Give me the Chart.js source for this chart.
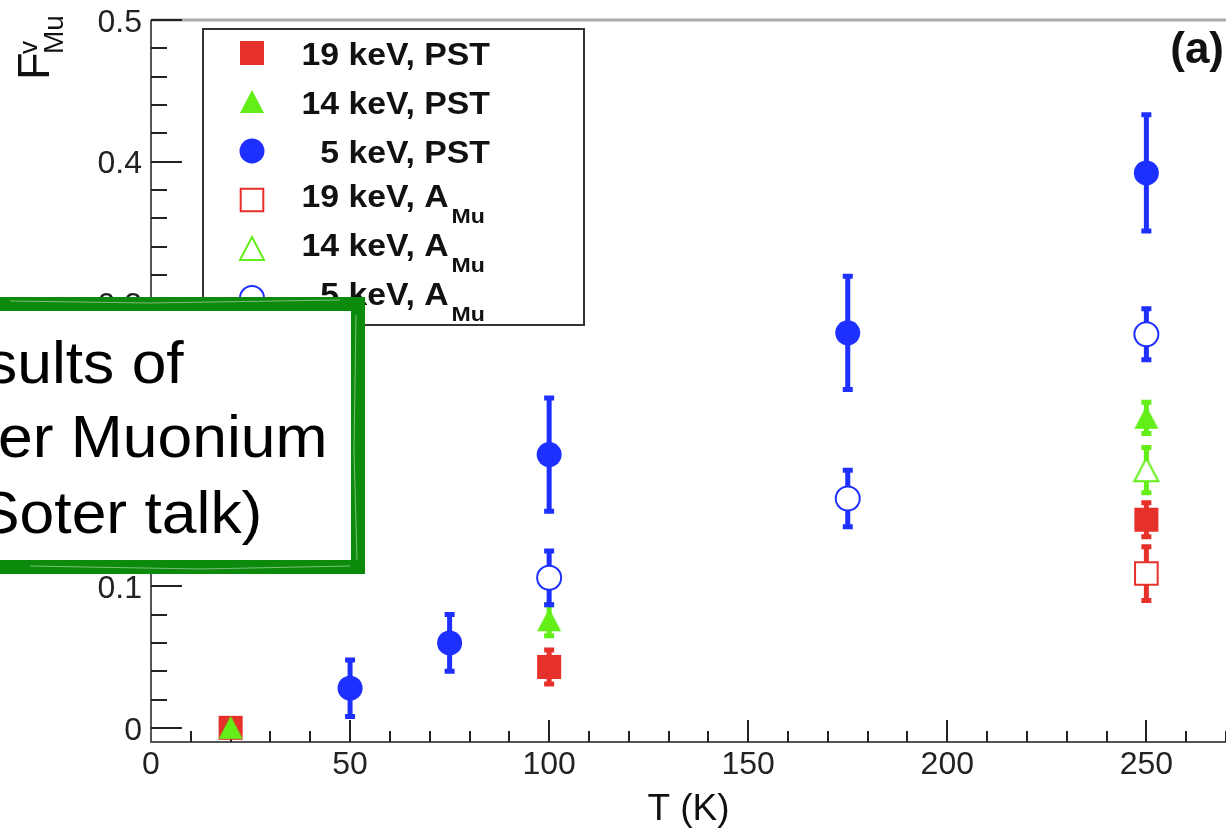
<!DOCTYPE html>
<html>
<head>
<meta charset="utf-8">
<title>Vacuum muonium fraction vs temperature</title>
<script src="https://cdn.jsdelivr.net/npm/chart.js@4.4.1/dist/chart.umd.min.js"></script>
<style>
  html, body { margin: 0; padding: 0; background: #fff; }
  #wrap { width: 1226px; height: 834px; }
</style>
</head>
<body>
<div id="wrap"><canvas id="chart" width="1226" height="834"></canvas></div>
<script>
// Datos: temperatura (K), fraccion F y error de cada serie
const pst19T = [20, 100, 250];
const pst19F = [0, 0.043, 0.147];
const pst19Err = [0, 0.012, 0.012];

const pst14T = [20, 100, 250];
const pst14F = [0, 0.076, 0.219];
const pst14Err = [0, 0.011, 0.011];

const pst5T = [50, 75, 100, 175, 250];
const pst5F = [0.028, 0.060, 0.193, 0.279, 0.392];
const pst5Err = [0.020, 0.020, 0.040, 0.040, 0.041];

const amu19T = [250];
const amu19F = [0.109];
const amu19Err = [0.019];

const amu14T = [250];
const amu14F = [0.182];
const amu14Err = [0.016];

const amu5T = [100, 175, 250];
const amu5F = [0.106, 0.162, 0.278];
const amu5Err = [0.019, 0.020, 0.018];

const xTickValues = [0, 50, 100, 150, 200, 250];
const xTickLabels = ['0', '50', '100', '150', '200', '250'];
const yTickValues = [0, 0.1, 0.2, 0.3, 0.4, 0.5];
const yTickLabels = ['0', '0.1', '0.2', '0.3', '0.4', '0.5'];

const legendEnergies = ['19', '14', '5', '19', '14', '5'];
const legendMethods = ['PST', 'PST', 'PST', 'A', 'A', 'A'];
const legendSubs = ['', '', '', 'Mu', 'Mu', 'Mu'];

const noteLines = ['sults of', 'er Muonium', 'Soter talk)'];

const RED = '#e6302a';
const GREEN = '#62ee16';
const BLUE = '#1e30ff';
const FONT = '"Liberation Sans", Arial, sans-serif';

// marcador triangular centrado en su caja (como ROOT)
function triangleMarker(color, filled) {
  const c = document.createElement('canvas');
  c.width = 28; c.height = 28;
  const g = c.getContext('2d');
  g.beginPath();
  g.moveTo(14, 2); g.lineTo(26, 25); g.lineTo(2, 25); g.closePath();
  g.fillStyle = filled ? color : '#fff';
  g.fill();
  if (!filled) { g.strokeStyle = color; g.lineWidth = 2; g.stroke(); }
  return c;
}

function series(label, xs, ys, errs, color, style, filled, radius, order) {
  return {
    label: label,
    data: xs.map((x, i) => ({ x: x, y: ys[i] })),
    errors: errs,
    errColor: color,
    pointStyle: style,
    pointRadius: radius,
    pointHoverRadius: radius,
    backgroundColor: filled ? color : '#fff',
    borderColor: color,
    borderWidth: filled ? 0 : 2,
    pointBorderWidth: filled ? 0 : 2,
    showLine: false,
    order: order
  };
}

const datasets = [
  series('19 keV, PST', pst19T, pst19F, pst19Err, RED, 'rect', true, 17, 5),
  series('14 keV, PST', pst14T, pst14F, pst14Err, GREEN, triangleMarker(GREEN, true), true, 13, 3),
  series('5 keV, PST', pst5T, pst5F, pst5Err, BLUE, 'circle', true, 12.5, 1),
  series('19 keV, A_Mu', amu19T, amu19F, amu19Err, RED, 'rect', false, 16, 6),
  series('14 keV, A_Mu', amu14T, amu14F, amu14Err, GREEN, triangleMarker(GREEN, false), false, 13, 4),
  series('5 keV, A_Mu', amu5T, amu5F, amu5Err, BLUE, 'circle', false, 12, 2)
];

function stretchText(ctx, text, x, y, sx, align) {
  ctx.save();
  ctx.translate(x, y);
  ctx.scale(sx, 1);
  ctx.textAlign = align || 'left';
  ctx.fillText(text, 0, 0);
  const w = ctx.measureText(text).width * sx;
  ctx.restore();
  return w;
}

// Marco y marcas de los ejes hacia dentro
const frame = {
  id: 'frame',
  beforeDraw(chart) {
    const ctx = chart.ctx;
    ctx.save();
    ctx.fillStyle = '#fff';
    ctx.fillRect(0, 0, chart.width, chart.height);
    ctx.restore();
  },
  beforeDatasetsDraw(chart) {
    const { ctx, chartArea: a, scales: { x, y } } = chart;
    ctx.save();
    ctx.strokeStyle = '#aaa';
    ctx.lineWidth = 3;
    ctx.beginPath(); ctx.moveTo(a.left, a.top); ctx.lineTo(a.right, a.top); ctx.stroke();

    ctx.strokeStyle = '#555';
    ctx.lineWidth = 2;
    ctx.beginPath();
    ctx.moveTo(a.left, a.top); ctx.lineTo(a.left, a.bottom); ctx.lineTo(a.right, a.bottom);
    ctx.stroke();

    ctx.strokeStyle = '#222';
    ctx.beginPath();
    for (let v = 10; v <= x.max; v += 10) {
      const px = Math.round(x.getPixelForValue(v));
      const len = v % 50 === 0 ? 22 : 11;
      ctx.moveTo(px, a.bottom); ctx.lineTo(px, a.bottom - len);
    }
    for (let k = 0; k <= 25; k++) {
      const py = Math.round(y.getPixelForValue(k * 0.02));
      const len = k % 5 === 0 ? 31 : 16;
      ctx.moveTo(a.left, py); ctx.lineTo(a.left + len, py);
    }
    ctx.stroke();
    ctx.restore();
  }
};

// Barras de error verticales
const errorBars = {
  id: 'errorBars',
  beforeDatasetsDraw(chart) {
    const { ctx, scales: { x, y } } = chart;
    ctx.save();
    ctx.lineWidth = 5;
    chart.data.datasets.forEach((ds) => {
      ctx.strokeStyle = ds.errColor;
      ds.data.forEach((p, i) => {
        const e = ds.errors[i];
        if (!e) return;
        const px = x.getPixelForValue(p.x);
        const top = y.getPixelForValue(p.y + e);
        const bot = y.getPixelForValue(p.y - e);
        ctx.beginPath();
        ctx.moveTo(px, top); ctx.lineTo(px, bot);
        ctx.moveTo(px - 5, top); ctx.lineTo(px + 5, top);
        ctx.moveTo(px - 5, bot); ctx.lineTo(px + 5, bot);
        ctx.stroke();
      });
    });
    ctx.restore();
  }
};

// Leyenda, titulo del eje y, etiqueta (a) y recuadro verde
const overlay = {
  id: 'overlay',
  afterDraw(chart) {
    const ctx = chart.ctx;
    ctx.save();

    // leyenda
    ctx.fillStyle = '#fff';
    ctx.fillRect(203, 29, 381, 296);
    ctx.strokeStyle = '#333';
    ctx.lineWidth = 2;
    ctx.strokeRect(203, 29, 381, 296);
    datasets.forEach((ds, i) => {
      const cy = 53 + i * 49;
      ctx.fillStyle = ds.backgroundColor;
      ctx.strokeStyle = ds.borderColor;
      ctx.lineWidth = ds.borderWidth;
      Chart.helpers.drawPoint(ctx, {
        pointStyle: ds.pointStyle,
        radius: ds.pointRadius,
        rotation: 0,
        borderWidth: ds.borderWidth
      }, 252, cy);

      ctx.fillStyle = '#111';
      ctx.font = 'bold 31px ' + FONT;
      const base = legendSubs[i] ? cy + 7 : cy + 12;
      stretchText(ctx, legendEnergies[i], 339, base, 1.09, 'right');
      const w = stretchText(ctx, ' keV, ' + legendMethods[i], 339, base, 1.09, 'left');
      if (legendSubs[i]) {
        ctx.font = 'bold 21px ' + FONT;
        stretchText(ctx, legendSubs[i], 339 + w + 3, cy + 23, 1.1, 'left');
      }
    });

    // (a)
    ctx.fillStyle = '#111';
    ctx.font = 'bold 44px ' + FONT;
    ctx.textAlign = 'right';
    ctx.fillText('(a)', 1224, 63);

    // titulo eje y: F con superindice v y subindice Mu
    ctx.save();
    ctx.translate(49, 80);
    ctx.rotate(-Math.PI / 2);
    ctx.textAlign = 'left';
    ctx.fillStyle = '#111';
    ctx.font = '45px ' + FONT;
    ctx.fillText('F', 0, 0);
    ctx.font = '26px ' + FONT;
    ctx.fillText('v', 26, -12);
    ctx.font = '28px ' + FONT;
    ctx.fillText('Mu', 26, 14);
    ctx.restore();

    // recuadro verde superpuesto
    ctx.fillStyle = '#fff';
    ctx.fillRect(-20, 304, 378, 263);
    ctx.strokeStyle = '#0b8a0b';
    ctx.lineWidth = 14;
    ctx.strokeRect(-20, 304, 378, 263);
    ctx.lineWidth = 1;
    ctx.strokeStyle = 'rgba(255,255,255,0.45)';
    ctx.beginPath();
    ctx.moveTo(10, 301); ctx.lineTo(150, 303); ctx.lineTo(340, 300);
    ctx.moveTo(30, 566); ctx.lineTo(200, 569); ctx.lineTo(350, 566);
    ctx.moveTo(356, 315); ctx.lineTo(354, 450); ctx.lineTo(357, 560);
    ctx.stroke();

    ctx.fillStyle = '#000';
    ctx.font = '60px ' + FONT;
    const noteX = [-14, -2, -22];
    const noteY = [383, 457, 533];
    noteLines.forEach((t, i) => stretchText(ctx, t, noteX[i], noteY[i], 1.04, 'left'));

    ctx.restore();
  }
};

new Chart(document.getElementById('chart'), {
  type: 'scatter',
  data: { datasets: datasets },
  options: {
    responsive: false,
    animation: false,
    layout: { autoPadding: false, padding: { top: 20, right: 0, bottom: 0, left: 0 } },
    plugins: {
      legend: { display: false },
      tooltip: { enabled: false }
    },
    scales: {
      x: {
        type: 'linear',
        min: 0,
        max: 270,
        grid: { display: false, drawTicks: false },
        border: { display: false },
        afterBuildTicks: (s) => { s.ticks = xTickValues.map((v) => ({ value: v })); },
        afterFit: (s) => {
          s.height = 92;
          s.paddingLeft = 0; s.paddingRight = 0; s.paddingTop = 0; s.paddingBottom = 0;
        },
        ticks: {
          autoSkip: false,
          maxRotation: 0,
          padding: 4,
          color: '#222',
          font: { family: FONT, size: 32 },
          callback: (v, i) => xTickLabels[i]
        },
        title: {
          display: true,
          text: 'T (K)',
          color: '#111',
          font: { family: FONT, size: 37 },
          padding: { top: 0, bottom: 2 }
        }
      },
      y: {
        type: 'linear',
        min: -0.01,
        max: 0.5,
        grid: { display: false, drawTicks: false },
        border: { display: false },
        afterBuildTicks: (s) => { s.ticks = yTickValues.map((v) => ({ value: v })); },
        afterFit: (s) => {
          s.width = 151;
          s.paddingLeft = 0; s.paddingRight = 0; s.paddingTop = 0; s.paddingBottom = 0;
        },
        ticks: {
          autoSkip: false,
          padding: 9,
          labelOffset: 3,
          color: '#222',
          font: { family: FONT, size: 32 },
          callback: (v, i) => yTickLabels[i]
        }
      }
    }
  },
  plugins: [frame, errorBars, overlay]
});
</script>
</body>
</html>
